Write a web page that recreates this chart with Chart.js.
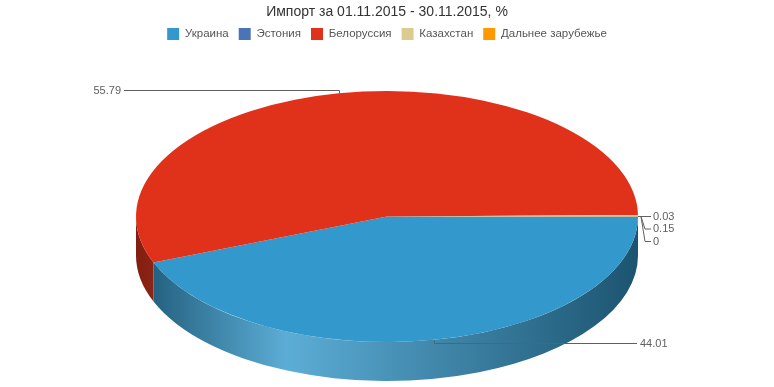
<!DOCTYPE html>
<html>
<head>
<meta charset="utf-8">
<title>Импорт за 01.11.2015 - 30.11.2015</title>
<script src="https://cdn.jsdelivr.net/npm/chart.js@4.4.1/dist/chart.umd.min.js"></script>
<style>
    html, body { margin: 0; padding: 0; background: #fff; }
</style>
</head>
<body>
<canvas id="importChart" width="774" height="387"></canvas>
<script>
// Chart data
const countries = ['Украина', 'Эстония', 'Белоруссия', 'Казахстан', 'Дальнее зарубежье'];
const shares = [44.01, 0, 55.79, 0.15, 0.03];
const sliceColors = ['#3398cc', '#4b73b8', '#e0321a', '#dccb8e', '#ff9900'];

// Where the tilted pie sits on the page
const PIE_CX = 387;
const PIE_CY = 216.5;
const PIE_RX = 251;
const PIE_RY = 125.5;
const PIE_DEPTH = 39;

const FONT = '"Liberation Sans", Arial, sans-serif';

function hexToRgb(hex) {
    const n = parseInt(hex.slice(1), 16);
    return [(n >> 16) & 255, (n >> 8) & 255, n & 255];
}

function darker(hex, f) {
    const c = hexToRgb(hex).map(v => Math.round(v * f));
    return `rgb(${c[0]}, ${c[1]}, ${c[2]})`;
}

function lighter(hex, f) {
    const c = hexToRgb(hex).map(v => Math.round(v + (255 - v) * f));
    return `rgb(${c[0]}, ${c[1]}, ${c[2]})`;
}

// Draws the side walls, then squashes the library's arcs into an ellipse
const pie3d = {
    id: 'pie3d',
    beforeDatasetsDraw(chart) {
        const ctx = chart.ctx;
        const arcs = chart.getDatasetMeta(0).data;
        if (!arcs.length) return;

        arcs.forEach((arc, i) => {
            // only the front half of the rim is visible
            const s = Math.max(arc.startAngle, 0);
            const e = Math.min(arc.endAngle, Math.PI);
            if (e <= s) return;

            const grad = ctx.createLinearGradient(PIE_CX - PIE_RX, 0, PIE_CX + PIE_RX, 0);
            grad.addColorStop(0, darker(sliceColors[i], 0.58));
            grad.addColorStop(0.3, lighter(sliceColors[i], 0.2));
            grad.addColorStop(1, darker(sliceColors[i], 0.55));

            ctx.beginPath();
            ctx.ellipse(PIE_CX, PIE_CY, PIE_RX, PIE_RY, 0, s, e, false);
            ctx.ellipse(PIE_CX, PIE_CY + PIE_DEPTH, PIE_RX, PIE_RY, 0, e, s, true);
            ctx.closePath();
            ctx.fillStyle = grad;
            ctx.fill();
        });

        const a = arcs[0];
        ctx.save();
        ctx.translate(PIE_CX, PIE_CY);
        ctx.scale(PIE_RX / a.outerRadius, PIE_RY / a.outerRadius);
        ctx.translate(-a.x, -a.y);
    },
    afterDatasetsDraw(chart) {
        chart.ctx.restore();
    }
};

// Value labels with connector lines
const pieLabels = {
    id: 'pieLabels',
    afterDraw(chart) {
        const ctx = chart.ctx;
        const arcs = chart.getDatasetMeta(0).data;
        ctx.save();
        ctx.font = '11px ' + FONT;
        ctx.fillStyle = '#606060';
        ctx.strokeStyle = '#606060';
        ctx.lineWidth = 1;
        ctx.textBaseline = 'middle';

        const tiny = [];
        arcs.forEach((arc, i) => {
            if (shares[i] < 1) {
                tiny.push({ arc: arc, i: i });
                return;
            }
            const mid = (arc.startAngle + arc.endAngle) / 2;
            const ax = Math.round(PIE_CX + PIE_RX * Math.cos(mid)) + 0.5;
            const ay = Math.round(PIE_CY + PIE_RY * Math.sin(mid)) + 0.5;
            const ly = ay + (Math.sin(mid) > 0 ? 3 : -3);
            const right = Math.cos(mid) >= 0;
            const endX = right ? PIE_CX + PIE_RX - 1 : PIE_CX - PIE_RX - 12;

            ctx.beginPath();
            ctx.moveTo(ax, ay);
            ctx.lineTo(ax, ly);
            ctx.lineTo(endX, ly);
            ctx.stroke();
            ctx.textAlign = right ? 'left' : 'right';
            ctx.fillText(String(shares[i]), endX + (right ? 3 : -3), ly);
        });

        // the near-zero slices stack in one column at the right edge
        tiny.sort((p, q) => q.arc.endAngle - p.arc.endAngle);
        const ax = PIE_CX + PIE_RX;
        const ay = Math.round(PIE_CY - 1) + 0.5;
        tiny.forEach((t, k) => {
            const ly = ay + k * 12.5;
            ctx.beginPath();
            ctx.moveTo(ax, ay);
            ctx.lineTo(ax + 3, ay);
            ctx.lineTo(ax + 7, ly);
            ctx.lineTo(ax + 13, ly);
            ctx.stroke();
            ctx.textAlign = 'left';
            ctx.fillText(String(shares[t.i]), ax + 15, ly);
        });
        ctx.restore();
    }
};

const ctx = document.getElementById('importChart').getContext('2d');
const importChart = new Chart(ctx, {
    type: 'pie',
    data: {
        labels: countries,
        datasets: [{
            data: shares,
            backgroundColor: sliceColors,
            borderWidth: 0,
            clip: false
        }]
    },
    options: {
        responsive: false,
        animation: false,
        events: [],
        rotation: 90,
        layout: {
            padding: { top: 0, bottom: 10 }
        },
        plugins: {
            title: {
                display: true,
                text: 'Импорт за 01.11.2015 - 30.11.2015, %',
                color: '#333333',
                font: { family: FONT, size: 14, weight: 'normal', lineHeight: 1 },
                padding: { top: 5, bottom: -1 }
            },
            legend: {
                position: 'top',
                labels: {
                    color: '#555555',
                    font: { family: FONT, size: 11.5 },
                    boxWidth: 12,
                    boxHeight: 12,
                    padding: 10
                }
            },
            tooltip: { enabled: false }
        }
    },
    plugins: [pie3d, pieLabels]
});
</script>
</body>
</html>
